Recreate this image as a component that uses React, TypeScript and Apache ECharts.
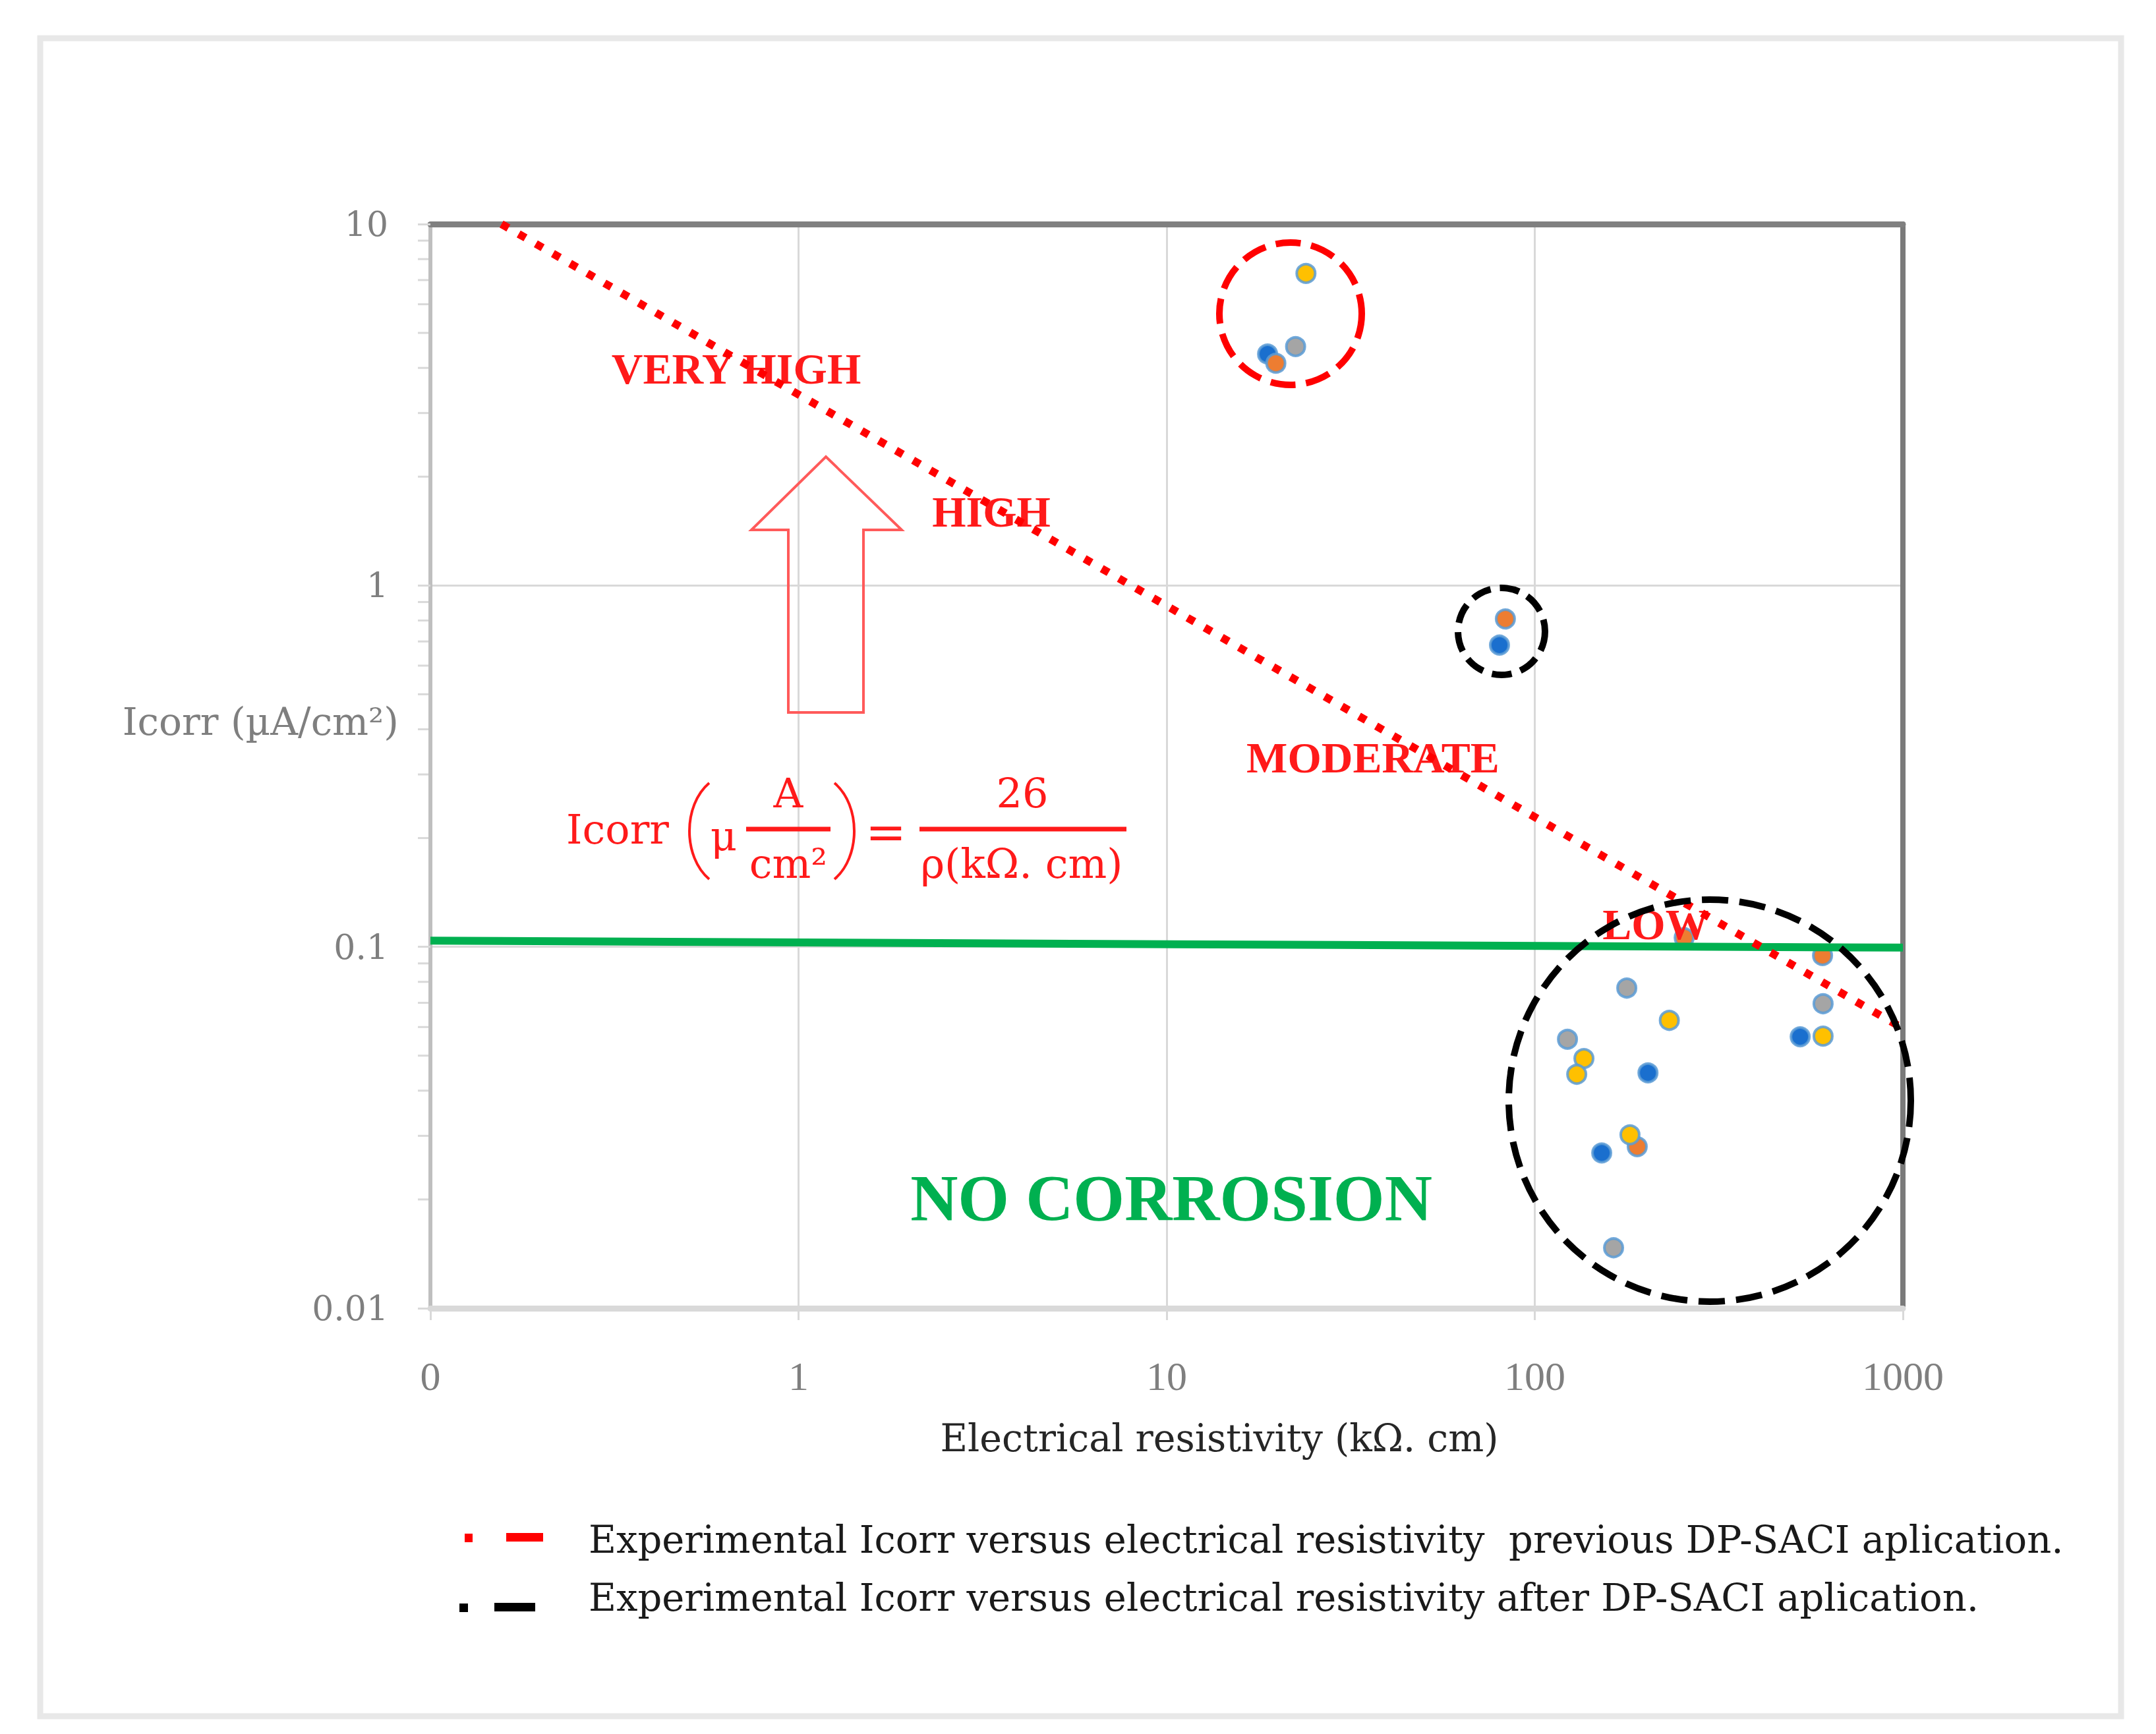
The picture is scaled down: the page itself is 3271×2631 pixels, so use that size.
import React, { useEffect, useRef } from "react";
import * as echarts from "echarts";

// ---- data ----
const blueX = [18.8, 80.2, 203, 152, 526];
const blueY = [4.37, 0.684, 0.0448, 0.0269, 0.0564];
const orangeX = [19.8, 83.2, 189.8, 254.6, 605];
const orangeY = [4.12, 0.808, 0.028, 0.106, 0.0946];
const grayX = [22.4, 177.8, 122.7, 163.7, 607];
const grayY = [4.58, 0.0769, 0.0555, 0.0147, 0.0696];
const yellowX = [23.9, 232, 136, 130, 181.4, 607];
const yellowY = [7.3, 0.0626, 0.0491, 0.0444, 0.0302, 0.0566];

// red dotted boundary line (Icorr = 26 / rho, as drawn)
const boundaryX = [0.156, 1000];
const boundaryY = [10, 0.0595];
// green "no corrosion" threshold
const thresholdX = [0.1, 1000];
const thresholdY = [0.104, 0.0995];

// y-axis minor tick values (log minor ticks)
const yMinorTicks = [
  0.02, 0.03, 0.04, 0.05, 0.06, 0.07, 0.08, 0.09,
  0.2, 0.3, 0.4, 0.5, 0.6, 0.7, 0.8, 0.9,
  2, 3, 4, 5, 6, 7, 8, 9,
];

const xTitle = "Electrical resistivity (kΩ. cm)";
const yTitle = "Icorr (µA/cm²)";
const legend1 = "Experimental Icorr versus electrical resistivity  previous DP-SACI aplication.";
const legend2 = "Experimental Icorr versus electrical resistivity after DP-SACI aplication.";

const zip = (xs: number[], ys: number[]) => xs.map((x, i) => [x, ys[i]]);

const GRID = { left: 653, top: 340, right: 3271 - 2887, bottom: 2631 - 1985 };
const RED = "#ff1a1a";
const SERIF = "Liberation Serif";
const WIDE = "DejaVu Serif";

const markerBorder = "rgba(91,155,213,0.85)";

function scatter(name: string, xs: number[], ys: number[], color: string) {
  return {
    name,
    type: "scatter",
    data: zip(xs, ys),
    symbol: "circle",
    symbolSize: 28,
    z: 4,
    itemStyle: { color, borderColor: markerBorder, borderWidth: 4, opacity: 1 },
  };
}

function txt(text: string, x: number, y: number, style: any, z = 5) {
  return {
    type: "text",
    x,
    y,
    z,
    style: { text, align: "center", verticalAlign: "middle", ...style },
  };
}

function paren(xEnd: number, xBulge: number) {
  return {
    type: "bezierCurve",
    z: 5,
    shape: {
      x1: xEnd,
      y1: 1188,
      x2: xEnd,
      y2: 1334,
      cpx1: xBulge,
      cpy1: 1222,
      cpx2: xBulge,
      cpy2: 1300,
    },
    style: { stroke: RED, lineWidth: 4, fill: "transparent" },
  };
}

export default function App() {
  const ref = useRef<HTMLDivElement>(null);
  useEffect(() => {
    document.body.style.margin = "0";
    const chart = echarts.init(ref.current!, null, { renderer: "svg" });
    const redBold = { fontFamily: SERIF, fontWeight: "bold", fontSize: 66, fill: RED };
    const eq = { fontFamily: WIDE, fontSize: 62, fill: RED };
    const option: any = {
      animation: false,
      backgroundColor: "#ffffff",
      grid: GRID,
      xAxis: [
        {
          type: "log",
          logBase: 10,
          min: 0.1,
          max: 1000,
          axisLine: { show: true, lineStyle: { color: "#d9d9d9", width: 9 } },
          axisTick: { show: true, length: 18, lineStyle: { color: "#d9d9d9", width: 3 } },
          axisLabel: {
            margin: 72,
            fontFamily: SERIF,
            fontSize: 62,
            color: "#7f7f7f",
            formatter: (v: number) => (v < 1 ? "0" : String(Math.round(v))),
          },
          splitLine: { show: true, lineStyle: { color: "#d9d9d9", width: 3 } },
          minorTick: { show: false },
        },
        {
          type: "log",
          logBase: 10,
          min: 0.1,
          max: 1000,
          position: "top",
          axisLine: { show: true, lineStyle: { color: "#808080", width: 9 } },
          axisTick: { show: false },
          axisLabel: { show: false },
          splitLine: { show: false },
        },
      ],
      yAxis: [
        {
          type: "log",
          logBase: 10,
          min: 0.01,
          max: 10,
          axisLine: { show: true, lineStyle: { color: "#bfbfbf", width: 6 } },
          axisTick: { show: true, length: 19, lineStyle: { color: "#d9d9d9", width: 3 } },
          axisLabel: {
            margin: 64,
            fontFamily: WIDE,
            fontSize: 52,
            color: "#7f7f7f",
            formatter: (v: number) => (v >= 1 ? String(Math.round(v)) : String(+v.toPrecision(1))),
          },
          splitLine: { show: true, lineStyle: { color: "#d9d9d9", width: 3 } },
        },
        {
          type: "log",
          logBase: 10,
          min: 0.01,
          max: 10,
          position: "right",
          axisLine: { show: true, lineStyle: { color: "#7a7a7a", width: 8 } },
          axisTick: { show: false },
          axisLabel: { show: false },
          splitLine: { show: false },
        },
      ],
      series: [
        {
          type: "custom",
          name: "yMinorTicks",
          data: yMinorTicks.map((v) => [0.1, v]),
          encode: { x: 0, y: 1 },
          clip: false,
          silent: true,
          z: 1,
          renderItem: (params: any, api: any) => {
            const p = api.coord([api.value(0), api.value(1)]);
            return {
              type: "line",
              shape: { x1: p[0] - 19, y1: p[1], x2: p[0] - 3, y2: p[1] },
              style: { stroke: "#d9d9d9", lineWidth: 3 },
            };
          },
        },
        scatter("blue", blueX, blueY, "#1a6fce"),
        scatter("orange", orangeX, orangeY, "#ed7d31"),
        scatter("gray", grayX, grayY, "#a5a5a5"),
        scatter("yellow", yellowX, yellowY, "#ffc000"),
        {
          type: "line",
          name: "no corrosion",
          data: zip(thresholdX, thresholdY),
          symbol: "none",
          z: 5,
          lineStyle: { color: "#00b050", width: 12 },
        },
        {
          type: "line",
          name: "boundary",
          data: zip(boundaryX, boundaryY),
          symbol: "none",
          z: 6,
          lineStyle: { color: "#ff0000", width: 12, type: [12, 18], cap: "butt" },
        },
      ],
      graphic: [
        // outer frame
        {
          type: "rect",
          z: 0,
          shape: { x: 61, y: 58, width: 3157, height: 2546 },
          style: { fill: "transparent", stroke: "#e8e8e8", lineWidth: 9 },
        },
        // region labels
        txt("VERY HIGH", 1117, 559, redBold),
        txt("HIGH", 1504, 776, redBold),
        txt("MODERATE", 2083, 1149, redBold),
        txt("LOW", 2512, 1402, redBold),
        txt("NO CORROSION", 1777, 1817, { fontFamily: SERIF, fontWeight: "bold", fontSize: 100, fill: "#00b050" }),
        // hollow arrow
        {
          type: "polygon",
          z: 5,
          shape: {
            points: [
              [1253, 693],
              [1368, 804],
              [1310, 804],
              [1310, 1081],
              [1196, 1081],
              [1196, 804],
              [1140, 804],
            ],
          },
          style: { fill: "transparent", stroke: "#ff5a5a", lineWidth: 4 },
        },
        // equation
        txt("Icorr", 937, 1258, eq),
        paren(1076, 1036),
        txt("μ", 1098, 1268, eq),
        txt("A", 1196, 1203, eq),
        {
          type: "line",
          z: 5,
          shape: { x1: 1132, y1: 1258, x2: 1260, y2: 1258 },
          style: { stroke: RED, lineWidth: 7 },
        },
        txt("cm²", 1196, 1310, eq),
        paren(1266, 1306),
        txt("=", 1344, 1262, { fontFamily: WIDE, fontSize: 74, fill: RED }),
        txt("26", 1551, 1203, eq),
        {
          type: "line",
          z: 5,
          shape: { x1: 1395, y1: 1258, x2: 1709, y2: 1258 },
          style: { stroke: RED, lineWidth: 7 },
        },
        txt("ρ(kΩ. cm)", 1550, 1310, eq),
        // annotation circles
        {
          type: "circle",
          z: 7,
          shape: { cx: 1958, cy: 476, r: 108 },
          style: { fill: "transparent", stroke: "#ff0000", lineWidth: 10, lineDash: [38, 16] },
        },
        {
          type: "circle",
          z: 7,
          shape: { cx: 2278, cy: 958, r: 66 },
          style: { fill: "transparent", stroke: "#000000", lineWidth: 10, lineDash: [30, 14] },
        },
        {
          type: "circle",
          z: 7,
          shape: { cx: 2594, cy: 1670, r: 305 },
          style: { fill: "transparent", stroke: "#000000", lineWidth: 10, lineDash: [40, 17] },
        },
        // axis titles
        {
          type: "text",
          x: 605,
          y: 1095,
          z: 5,
          style: { text: yTitle, align: "right", verticalAlign: "middle", fontFamily: WIDE, fontSize: 58, fill: "#7f7f7f" },
        },
        txt(xTitle, 1850, 2182, { fontFamily: WIDE, fontSize: 57, fill: "#262626" }),
        // legend keys
        { type: "rect", z: 5, shape: { x: 705, y: 2327, width: 12, height: 13 }, style: { fill: "#ff0000" } },
        { type: "rect", z: 5, shape: { x: 768, y: 2326, width: 56, height: 13 }, style: { fill: "#ff0000" } },
        { type: "rect", z: 5, shape: { x: 697, y: 2433, width: 13, height: 13 }, style: { fill: "#000000" } },
        { type: "rect", z: 5, shape: { x: 750, y: 2432, width: 62, height: 13 }, style: { fill: "#000000" } },
        {
          type: "text",
          x: 893,
          y: 2336,
          z: 5,
          style: { text: legend1, align: "left", verticalAlign: "middle", fontFamily: WIDE, fontSize: 57.5, fill: "#1a1a1a" },
        },
        {
          type: "text",
          x: 893,
          y: 2424,
          z: 5,
          style: { text: legend2, align: "left", verticalAlign: "middle", fontFamily: WIDE, fontSize: 57.5, fill: "#1a1a1a" },
        },
      ],
    };
    chart.setOption(option);
    return () => chart.dispose();
  }, []);
  return <div ref={ref} style={{ width: 3271, height: 2631 }} />;
}
